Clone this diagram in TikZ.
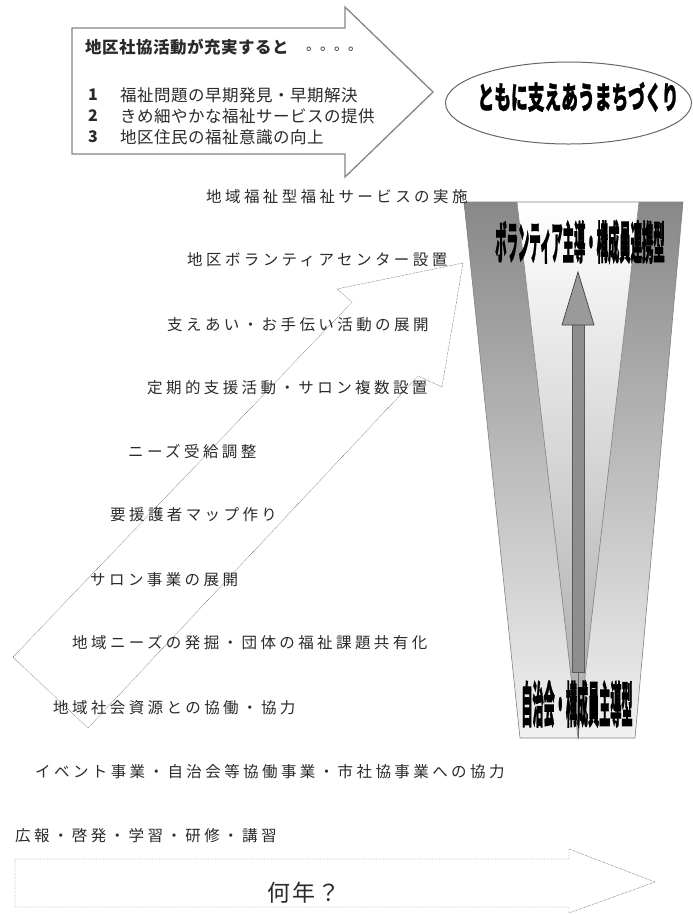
\documentclass[tikz,border=0pt]{standalone}
\usepackage{fontspec}
\newfontfamily\jp{Noto Sans CJK JP}
\definecolor{txt}{HTML}{2A2A2A}
\definecolor{arrowgray}{HTML}{858585}
\definecolor{bandtop}{HTML}{888888}
\definecolor{bandbot}{HTML}{F2F2F2}
\definecolor{innerbot}{HTML}{A8A8A8}
\definecolor{innermid}{HTML}{E4E4E4}
\definecolor{shaftfill}{HTML}{8E8E8E}
\definecolor{headfill}{HTML}{9A9A9A}
\definecolor{dotgray}{HTML}{555555}
\begin{document}
\begin{tikzpicture}[x=1pt,y=-1pt,
  stepl/.style={anchor=west, inner sep=0pt, text=txt,
    font=\jp\fontsize{15.5}{16}\selectfont\addfontfeature{LetterSpace=22}},
  boxl/.style={anchor=west, inner sep=0pt, text=txt,
    font=\jp\fontsize{16.5}{17}\selectfont\addfontfeature{LetterSpace=3}},
  numl/.style={inner sep=0pt, text=txt, font=\jp\bfseries\fontsize{16}{16}\selectfont},
  bigarrow/.style={draw=arrowgray, line width=1.3pt, fill=white, line join=miter},
  dotline/.style={draw=dotgray, line width=0.45pt, dash pattern=on 0.6pt off 0.8pt},
  funnelline/.style={draw=gray, line width=0.6pt},
  condensed/.style={inner sep=0pt, text=black}
]
\useasboundingbox (0,0) rectangle (693,914);

% top block arrow
\draw[bigarrow] (72,28) -- (345,28) -- (345,7) -- (433,92) -- (345,177) -- (345,154) -- (72,154) -- cycle;
\node[boxl] (title) at (85,47) {\bfseries 地区社協活動が充実すると};
\node[anchor=base west, inner sep=0pt, text=txt, font=\jp\fontsize{14}{14}\selectfont] (dots) at (306,50) {。。。。};
\node[numl] (n1) at (93,95) {1};
\node[numl] (n2) at (93,116) {2};
\node[numl] (n3) at (93,137) {3};
\node[boxl] (l1) at (120,95) {福祉問題の早期発見・早期解決};
\node[boxl] (l2) at (120,116) {きめ細やかな福祉サービスの提供};
\node[boxl] (l3) at (120,137) {地区住民の福祉意識の向上};

% goal ellipse
\draw[draw=gray!80!black, line width=1pt] (568.5,103) ellipse [x radius=123, y radius=-41];
\node[condensed] (goal) at (578,97) {\scalebox{0.54}[1]{\jp\bfseries\addfontfeature{FakeBold=1.5}\fontsize{31}{31}\selectfont ともに支えあうまちづくり}};

% funnel
\shade[top color=bandtop, bottom color=bandbot] (464,202) -- (517,202) -- (578,738) -- (520,738) -- cycle;
\shade[top color=bandtop, bottom color=bandbot] (639,202) -- (683,202) -- (635,738) -- (578,738) -- cycle;
\shade[top color=white, middle color=innermid, bottom color=innerbot] (517,202) -- (639,202) -- (578,738) -- cycle;
\draw[funnelline] (517,202) -- (578,738) -- (639,202);
\draw[funnelline] (464,202) -- (683,202) -- (635,738) -- (520,738) -- cycle;
\draw[draw=gray!80!black, line width=0.5pt] (578,672) -- (578,738);
\draw[draw=gray!70!black, fill=shaftfill, line width=0.6pt] (572,323) rectangle (584,672);
\draw[draw=gray!50!black, fill=headfill, line width=0.7pt] (578,272) -- (594,325) -- (562,325) -- cycle;
\node[condensed] (toplbl) at (580,242) {\scalebox{0.252}[1]{\jp\bfseries\addfontfeature{FakeBold=2}\fontsize{45}{45}\selectfont ボランティア主導・構成員連携型}};
\node[condensed] (botlbl) at (577,704) {\scalebox{0.227}[1]{\jp\bfseries\addfontfeature{FakeBold=2}\fontsize{49}{49}\selectfont 自治会・構成員主導型}};

% diagonal dotted arrow
\draw[dotline] (463,263) -- (337,289) -- (352,302) -- (13,657) -- (88,728) -- (418,376) -- (442,387) -- cycle;

% step labels
\node[stepl] (s1) at (206,197) {地域福祉型福祉サービスの実施};
\node[stepl] (s2) at (187,260) {地区ボランティアセンター設置};
\node[stepl] (s3) at (167,325) {支えあい・お手伝い活動の展開};
\node[stepl] (s4) at (147,388) {定期的支援活動・サロン複数設置};
\node[stepl] (s5) at (128,452) {ニーズ受給調整};
\node[stepl] (s6) at (110,515) {要援護者マップ作り};
\node[stepl] (s7) at (90,580) {サロン事業の展開};
\node[stepl] (s8) at (72,643) {地域ニーズの発掘・団体の福祉課題共有化};
\node[stepl] (s9) at (53,708) {地域社会資源との協働・協力};
\node[stepl] (s10) at (35,772) {イベント事業・自治会等協働事業・市社協事業への協力};
\node[stepl] (s11) at (15,836) {広報・啓発・学習・研修・講習};

% bottom dotted arrow
\draw[dotline] (15,859) -- (569,859) -- (569,849) -- (655,882) -- (569,913) -- (569,907) -- (15,907) -- cycle;
\node[inner sep=0pt, text=txt, font=\jp\fontsize{23}{23}\selectfont\addfontfeature{LetterSpace=8}] (years) at (304,893) {何年？};
\end{tikzpicture}
\end{document}
